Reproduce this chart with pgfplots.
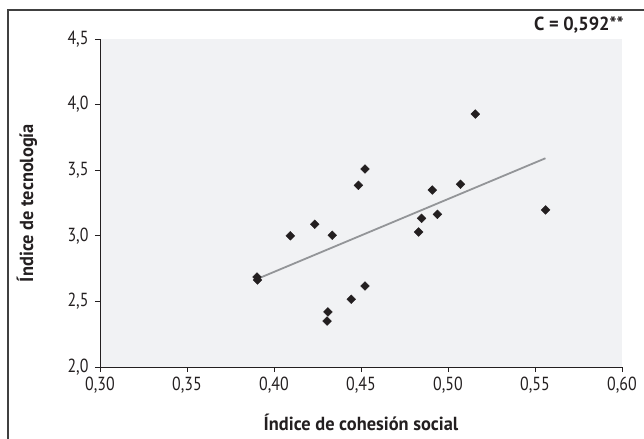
\documentclass[border=0pt]{standalone}
\usepackage{fontspec}
\setmainfont{PT Sans}[FakeStretch=0.84]
\newfontfamily\labelfont{PT Sans}[FakeStretch=0.97]
\usepackage{pgfplots}
\pgfplotsset{compat=1.18}
\definecolor{txt}{HTML}{231F20}
\definecolor{bg}{HTML}{F1F2F4}
\definecolor{trend}{HTML}{939598}
\newcommand{\chartfont}{\fontsize{19}{22}\selectfont}
\newcommand{\lblfont}{\labelfont\bfseries\fontsize{19}{22}\selectfont}
\begin{document}
\begin{tikzpicture}
\path[use as bounding box] (-100bp,-72bp) rectangle (544bp,367bp);
\draw[line width=1.2bp, color=black!75] (-92bp,-72bp) -- (-92bp,357bp) -- (544bp,357bp);
\begin{axis}[
  at={(0,0)}, anchor=south west,
  scale only axis, width=522bp, height=328bp,
  xmin=0.30, xmax=0.60, ymin=2.0, ymax=4.5,
  xtick={0.30,0.35,...,0.601}, ytick={2.0,2.5,...,4.51},
  axis x line*=bottom, axis y line*=left,
  axis line style={line width=0.8bp, color=txt},
  axis background/.style={fill=bg},
  tick align=outside, major tick length=5bp,
  tick style={line width=0.8bp, color=txt},
  tick label style={font=\chartfont, text=txt},
  /pgf/number format/assume math mode=true,
  /pgf/number format/use comma,
  xticklabel style={yshift=-2bp, /pgf/number format/.cd, fixed, fixed zerofill, precision=2},
  yticklabel style={xshift=-3bp, /pgf/number format/.cd, fixed, fixed zerofill, precision=1},
  xlabel={Índice de cohesión social},
  ylabel={Índice de tecnología},
  label style={font=\lblfont, text=txt},
  xlabel style={at={(axis description cs:0.5,-0.168)}, anchor=center},
  ylabel style={at={(axis description cs:-0.140,0.5)}, anchor=center},
  clip=false,
]
\addplot[only marks, mark=square*, mark size=3.1bp, mark options={rotate=45}, color=txt] coordinates {
(0.3902,2.686) (0.3905,2.663) (0.4094,3.000) (0.4234,3.088) (0.4335,3.004)
(0.4485,3.385) (0.4523,3.509) (0.4310,2.420) (0.4305,2.350) (0.4444,2.516)
(0.4523,2.617) (0.4831,3.029) (0.4848,3.133) (0.4910,3.349) (0.4939,3.164)
(0.5072,3.393) (0.5157,3.928) (0.5561,3.197)
};
\addplot[color=trend, line width=1.8bp] coordinates {(0.3905,2.672) (0.5560,3.591)};
\end{axis}
\node[anchor=east, font=\lblfont, text=txt] at (527bp,342bp) {C = 0,592**};
\end{tikzpicture}
\end{document}
